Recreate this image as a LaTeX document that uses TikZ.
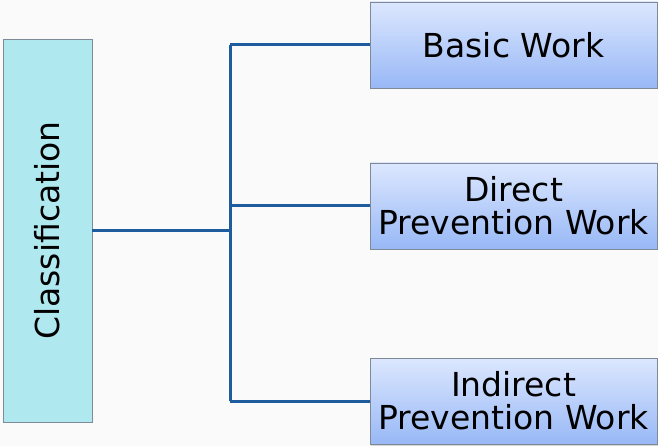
\documentclass[tikz,border=0pt]{standalone}
\usepackage{fontspec}
\setmainfont{DejaVu Sans}
\usetikzlibrary{shadows}
\definecolor{pagebg}{HTML}{FAFAFA}
\definecolor{linkblue}{HTML}{1E5C9E}
\definecolor{rootfill}{HTML}{B0E8F0}
\definecolor{boxtop}{HTML}{DCE7FE}
\definecolor{boxbot}{HTML}{98B8F6}
\definecolor{edgegray}{HTML}{7E8A96}
\tikzset{
  x=1pt, y=-1pt,
  rootbox/.style={draw=edgegray, line width=0.9pt, fill=rootfill,
    minimum width=89pt, minimum height=383pt, inner sep=0pt,
    drop shadow={shadow xshift=1.2pt, shadow yshift=-1.2pt, opacity=0.25}},
  leafbox/.style={draw=edgegray, line width=0.9pt,
    top color=boxtop, bottom color=boxbot,
    minimum width=287pt, minimum height=86pt, inner sep=0pt,
    align=center, font=\fontsize{33}{33}\selectfont,
    drop shadow={shadow xshift=1.2pt, shadow yshift=-1.5pt, opacity=0.3}},
  link/.style={draw=linkblue, line width=3pt}
}
\begin{document}
\begin{tikzpicture}
  \fill[pagebg] (0,0) rectangle (658,446);
  \useasboundingbox (0,0) rectangle (658,446);

  \node[rootbox] (root) at (47.5,230.5) {};
  \node[rotate=90, font=\fontsize{33}{33}\selectfont] (roottext) at (root.center) {Classification};

  \node[leafbox] (basic) at (513.5,45) {Basic Work};
  \node[leafbox] (direct) at (513.5,206) {Direct\\Prevention Work};
  \node[leafbox] (indirect) at (513.5,401) {Indirect\\Prevention Work};

  \coordinate (hub) at (230,230.5);
  \coordinate (jtop) at (230,45);
  \coordinate (jmid) at (230,206);
  \coordinate (jbot) at (230,401);

  \draw[link] (root.east) -- (hub);
  \draw[link] (jtop) -- (jbot);
  \draw[link] (jtop) -- (basic.west);
  \draw[link] (jmid) -- (direct.west);
  \draw[link] (jbot) -- (indirect.west);
\end{tikzpicture}
\end{document}
